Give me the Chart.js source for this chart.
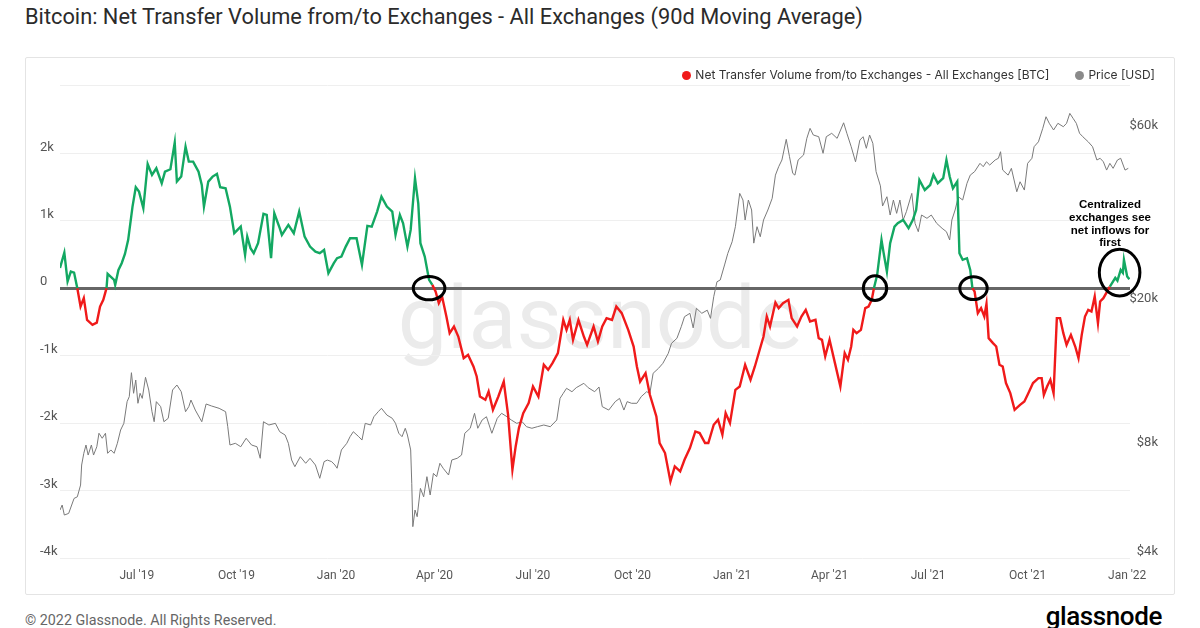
<!DOCTYPE html>
<html>
<head>
<meta charset="utf-8">
<script src="https://cdn.jsdelivr.net/npm/chart.js@4.4.1/dist/chart.umd.min.js"></script>
<style>
  html, body { margin: 0; padding: 0; background: #fff; }
  body { width: 1200px; height: 628px; position: relative; overflow: hidden; font-family: Roboto, "Liberation Sans", sans-serif; }
  #title { position: absolute; left: 25px; top: 4px; font-size: 21.8px; color: #2b2b2b; white-space: nowrap; }
  #panel { position: absolute; left: 25px; top: 57px; width: 1150px; height: 538px; border: 1px solid #e4e4e4; box-sizing: border-box; border-radius: 2px; }
  #wrap { position: absolute; left: 25px; top: 57px; width: 1150px; height: 538px; }
  #legend { position: absolute; right: 45px; top: 67px; font-family: Inter, Roboto, sans-serif; font-size: 12px; color: #333; white-space: nowrap; }
  #legend span.dot { display: inline-block; width: 9px; height: 9px; border-radius: 50%; margin-right: 4px; vertical-align: -1px; }
  #legend span.item { margin-left: 26px; }
  #footer { position: absolute; left: 25px; top: 612px; font-size: 14.3px; color: #666; }
  #logo { position: absolute; right: 38px; top: 601px; font-family: Roboto, sans-serif; font-weight: 500; font-size: 26px; color: #000; letter-spacing: -0.4px; }
</style>
</head>
<body>
<div id="title">Bitcoin: Net Transfer Volume from/to Exchanges - All Exchanges (90d Moving Average)</div>
<div id="panel"></div>
<div id="wrap"><canvas id="chart"></canvas></div>
<div id="legend"><span class="item"><span class="dot" style="background:#f01a1a"></span>Net Transfer Volume from/to Exchanges - All Exchanges [BTC]</span><span class="item"><span class="dot" style="background:#8a8a8a"></span>Price [USD]</span></div>
<div id="footer">© 2022 Glassnode. All Rights Reserved.</div>
<div id="logo">glassnode</div>
<script>
// days counted from 2019-07-01
const netDays = [-71,-67,-64,-61,-58,-55,-52,-49,-46,-41,-37,-34,-31,-28,-27,-21,-20,-17,-14,-11,-8,-4,-1,2,6,10,14,18,23,26,31,35,37,41,45,48,52,57,60,62,66,70,74,77,82,86,90,96,100,102,105,108,112,117,120,124,127,132,134,140,145,150,155,160,165,169,173,177,182,185,189,193,197,203,208,213,217,222,226,231,236,239,243,246,250,253,257,260,262,266,270,273,276,279,282,286,289,293,297,302,306,311,314,317,322,325,329,334,339,343,347,350,353,357,362,366,371,376,380,384,389,394,397,400,403,408,413,416,422,426,430,434,439,443,448,454,459,462,465,470,474,480,483,488,493,497,502,506,511,516,520,525,528,533,537,541,544,548,553,557,562,567,571,575,579,582,585,590,593,597,602,605,610,614,618,622,627,630,633,636,640,645,650,654,657,660,662,665,669,673,676,679,681,684,688,690,693,696,700,703,708,713,717,720,723,728,733,736,740,745,748,751,754,758,760,763,767,770,772,774,777,780,783,785,787,791,794,797,800,803,807,811,816,820,823,828,833,836,838,841,844,847,850,853,856,859,863,867,870,873,876,879,882,885,888,890,893,899,904,906,909,911,912,915,917];
const netValues = [300,527,100,246,231,0,-272,-148,-470,-543,-510,-272,-173,0,212,123,49,271,370,508,716,1209,1496,1431,1185,1841,1679,1778,1556,1728,1763,2157,1580,1654,2098,1876,1876,1728,1531,1209,1580,1654,1693,1496,1481,1209,815,913,493,764,593,519,667,1101,1086,444,1111,889,790,938,815,1135,764,616,542,519,567,222,370,444,468,616,741,741,345,923,913,1135,1357,1209,1135,790,1086,963,616,864,1630,1259,667,468,123,49,-50,-222,-124,-420,-667,-568,-717,-1037,-988,-1161,-1309,-1606,-1655,-1531,-1803,-1606,-1384,-1877,-2692,-2346,-2074,-1852,-1704,-1457,-1606,-1136,-1210,-1111,-963,-470,-618,-470,-766,-470,-717,-840,-568,-791,-568,-444,-470,-272,-370,-618,-865,-1161,-1384,-1259,-1581,-1902,-2296,-2444,-2865,-2642,-2717,-2544,-2370,-2124,-2148,-2296,-2296,-2025,-1951,-2173,-1852,-2000,-1507,-1457,-1136,-1358,-1161,-939,-717,-420,-568,-213,-296,-222,-173,-444,-568,-420,-321,-494,-470,-741,-766,-1012,-766,-1111,-1457,-963,-1062,-865,-618,-667,-618,-296,-272,-173,0,197,716,519,246,667,913,963,1012,889,1012,1160,1604,1456,1530,1679,1556,1630,1901,1654,1481,1580,519,420,444,271,0,-50,-370,-296,-420,-233,-741,-815,-865,-1136,-1161,-1407,-1556,-1803,-1729,-1680,-1581,-1407,-1333,-1333,-1581,-1457,-1358,-1556,-444,-444,-667,-840,-692,-865,-1037,-692,-420,-321,-346,-124,-518,-198,-148,24,152,112,270,227,420,172,133];

const priceDays = [-71,-69,-67,-63,-58,-55,-52,-51,-49,-47,-45,-42,-40,-37,-35,-32,-29,-27,-24,-21,-18,-15,-12,-9,-7,-5,-3,-1,1,3,5,8,11,14,16,18,22,25,29,33,37,41,45,48,50,54,60,64,69,76,82,84,86,91,96,101,106,111,114,117,122,128,132,137,140,143,146,151,156,160,165,169,173,176,180,183,185,189,194,197,200,205,208,211,216,219,223,226,231,236,239,242,245,248,250,253,254,255,257,259,262,265,268,271,274,277,280,283,288,291,296,300,303,308,312,315,319,323,328,333,337,342,346,351,356,360,365,370,376,382,388,391,394,397,402,406,413,417,423,427,430,436,442,446,450,453,457,462,466,471,474,477,482,486,491,494,499,503,506,511,514,517,522,527,530,533,536,539,543,546,550,553,555,557,560,562,565,568,570,573,576,579,583,587,590,593,596,600,603,606,608,611,616,619,622,625,630,634,637,642,647,653,656,660,664,668,671,674,677,680,683,687,689,693,696,699,702,705,708,711,716,719,722,725,730,734,739,744,748,751,753,756,759,763,767,770,774,779,782,785,788,793,796,798,800,805,808,813,816,820,823,827,829,833,837,840,843,847,851,856,859,862,865,868,871,874,879,883,887,890,893,896,899,902,906,909,913,916];
const priceValues = [5425,5600,5255,5310,5840,5900,6357,7220,7777,8197,7692,8197,7692,8108,8833,8557,8833,7777,7945,7777,8288,9016,9408,10797,11145,12977,11385,12388,10685,11385,11024,12601,11624,10128,9504,10797,10459,9504,9713,11624,12000,11500,10128,10459,10909,10236,9504,10637,10504,10349,10128,9208,8197,8288,8108,8557,8197,8108,7535,9504,9308,9408,8920,8735,8288,7455,7143,7613,7300,7535,7220,6636,7376,7450,7376,7220,7073,7945,8288,8643,8920,8643,8461,9408,9308,9811,10128,10349,9917,9713,9408,8833,8643,9117,8735,7945,6428,4881,5425,5200,6224,5900,6704,5968,6847,6704,7300,7073,6776,7455,7535,7692,8833,9117,10025,9117,9608,9811,8833,9713,10025,9811,9608,9408,9504,9208,9117,9208,9308,9208,9608,11024,11385,11752,11500,11800,12130,11800,11500,11850,10459,10236,10797,11024,10236,10797,10685,10685,11145,11500,11385,12927,13345,13772,14671,15637,16146,17380,18516,18921,17250,19536,18921,19300,18325,21025,23120,23380,25722,27688,29808,32796,36464,40530,38850,34212,38850,36464,29545,32796,30772,34212,36464,39270,45510,48010,50090,57117,51170,46030,45510,50090,51720,57480,61240,58710,58080,52280,58080,59350,57480,63450,59350,54510,49530,56850,58080,53960,58710,55700,46520,42500,37400,39670,35320,38850,35700,38850,34212,36080,40530,33500,31770,35320,34590,35320,33500,32460,31770,30140,34212,36464,39670,38850,43210,45510,46520,49040,48010,49530,48520,50090,50640,52790,46990,45510,47510,40950,43630,41390,49040,50640,54510,56230,61240,65930,63240,60610,63240,61880,63240,67360,65270,63240,59350,58080,56230,54510,50090,50640,49530,46990,49040,47510,50090,50640,46990,47510];

const xTickDays = [0, 92, 184, 275, 366, 458, 550, 640, 731, 823, 915];
const xTickLabels = ["Jul '19", "Oct '19", "Jan '20", "Apr '20", "Jul '20", "Oct '20", "Jan '21", "Apr '21", "Jul '21", "Oct '21", "Jan '22"];
const netTicks = [-4000, -3000, -2000, -1000, 0, 1000, 2000, 3000];
const netTickLabels = ['-4k', '-3k', '-2k', '-1k', '0', '1k', '2k', ''];
const priceTicks = [4000, 8000, 20000, 60000];
const priceTickLabels = ['$4k', '$8k', '$20k', '$60k'];

// highlighted crossings (day, net value)
const markerDays = [270, 682, 773, 908];
const markerValues = [0, 0, 0, 231];
const noteLines = ['Centralized', 'exchanges see', 'net inflows for', 'first'];

const GREEN = '#13a862';
const RED = '#f01a1a';

const decorations = {
  id: 'decorations',
  beforeDraw(chart) {
    const { ctx, chartArea } = chart;
    ctx.save();
    ctx.font = '88px Roboto';
    ctx.fillStyle = '#ebebeb';
    ctx.textAlign = 'center';
    ctx.textBaseline = 'alphabetic';
    ctx.fillText('glassnode', (chartArea.left + chartArea.right) / 2 + 5, 291);
    ctx.restore();
  },
  afterDraw(chart) {
    const { ctx } = chart;
    const x = chart.scales.x, y = chart.scales.y;
    const radii = [[15.8, 11.7], [11.7, 12.3], [13.7, 11.4], [20.3, 23.3]];
    ctx.save();
    ctx.strokeStyle = '#000';
    ctx.lineWidth = 3;
    markerDays.forEach((d, i) => {
      ctx.beginPath();
      ctx.ellipse(x.getPixelForValue(d), y.getPixelForValue(markerValues[i]), radii[i][0], radii[i][1], 0, 0, Math.PI * 2);
      ctx.stroke();
    });
    const last = markerDays.length - 1;
    const cx = x.getPixelForValue(markerDays[last]) - 9.6;
    const cy = y.getPixelForValue(markerValues[last]);
    ctx.font = 'bold 11.5px "Liberation Sans"';
    ctx.fillStyle = '#000';
    ctx.textAlign = 'center';
    ctx.textBaseline = 'middle';
    noteLines.forEach((t, k) => ctx.fillText(t, cx, cy - 68 + k * 12.9));
    ctx.restore();
  }
};

new Chart(document.getElementById('chart'), {
  type: 'line',
  data: {
    datasets: [{
      label: 'Net Transfer Volume from/to Exchanges - All Exchanges [BTC]',
      data: netDays.map((d, i) => ({ x: d, y: netValues[i] })),
      yAxisID: 'y',
      borderColor: RED,
      borderWidth: 2.4,
      pointRadius: 0,
      tension: 0,
      segment: {
        borderColor: c => (c.p0.parsed.y + c.p1.parsed.y) / 2 >= 0 ? GREEN : RED
      }
    }, {
      label: 'Price [USD]',
      data: priceDays.map((d, i) => ({ x: d, y: priceValues[i] })),
      yAxisID: 'y2',
      borderColor: '#7a7a7a',
      borderWidth: 1,
      pointRadius: 0,
      tension: 0
    }]
  },
  options: {
    responsive: true,
    maintainAspectRatio: false,
    animation: false,
    layout: { padding: { left: 15, right: 17, top: 28.8, bottom: 0 } },
    plugins: { legend: { display: false }, tooltip: { enabled: false } },
    scales: {
      x: {
        type: 'linear',
        min: -71,
        max: 917.6,
        afterBuildTicks: s => { s.ticks = xTickDays.map(v => ({ value: v })); },
        afterFit: s => { s.height = 37; },
        ticks: {
          callback: (v, i) => xTickLabels[i],
          color: '#555',
          font: { family: 'Roboto', size: 12 },
          padding: 11,
          maxRotation: 0,
          autoSkip: false
        },
        grid: { display: false, drawTicks: false },
        border: { display: false }
      },
      y: {
        type: 'linear',
        position: 'left',
        min: -4000,
        max: 3000,
        afterBuildTicks: s => { s.ticks = netTicks.map(v => ({ value: v })); },
        afterFit: s => { s.width = 20; },
        ticks: {
          callback: (v, i) => netTickLabels[i],
          crossAlign: 'far',
          labelOffset: -6,
          color: '#555',
          font: { family: 'Roboto', size: 13 },
          padding: 0
        },
        grid: {
          color: c => c.tick && c.tick.value === 0 ? '#666' : '#efefef',
          lineWidth: c => c.tick && c.tick.value === 0 ? 3 : 1,
          drawTicks: false
        },
        border: { display: false }
      },
      y2: {
        type: 'logarithmic',
        position: 'right',
        min: 4000,
        max: 80250,
        afterBuildTicks: s => { s.ticks = priceTicks.map(v => ({ value: v })); },
        afterFit: s => { s.width = 28; },
        ticks: {
          callback: (v, i) => priceTickLabels[i],
          crossAlign: 'far',
          labelOffset: -6,
          color: '#555',
          font: { family: 'Roboto', size: 13 },
          padding: 0
        },
        grid: { display: false, drawTicks: false },
        border: { display: false }
      }
    }
  },
  plugins: [decorations]
});
</script>
</body>
</html>
